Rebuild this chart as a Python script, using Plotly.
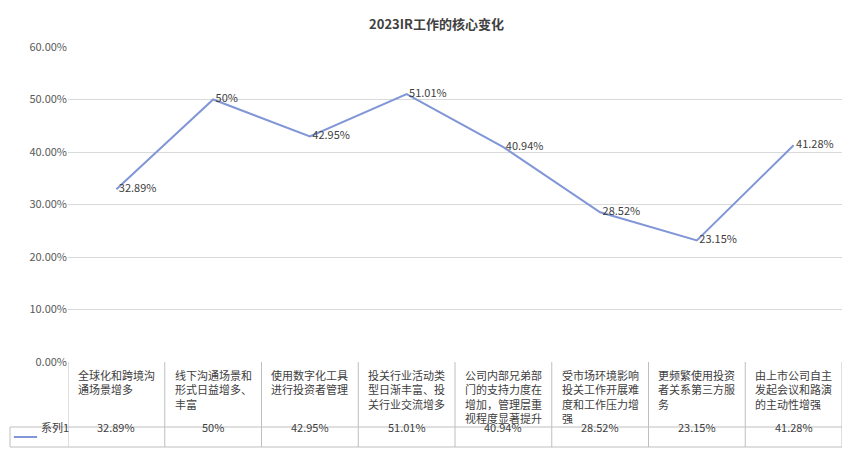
import plotly.graph_objects as go

categories = ["全球化和跨境沟<br>通场景增多", "线下沟通场景和<br>形式日益增多、<br>丰富", "使用数字化工具<br>进行投资者管理",
              "投关行业活动类<br>型日渐丰富、投<br>关行业交流增多", "公司内部兄弟部<br>门的支持力度在<br>增加，管理层重<br>视程度显著提升",
              "受市场环境影响<br>投关工作开展难<br>度和工作压力增<br>强", "更频繁使用投资<br>者关系第三方服<br>务",
              "由上市公司自主<br>发起会议和路演<br>的主动性增强"]
values = [0.3289, 0.50, 0.4295, 0.5101, 0.4094, 0.2852, 0.2315, 0.4128]
value_labels = ["32.89%", "50%", "42.95%", "51.01%", "40.94%", "28.52%", "23.15%", "41.28%"]
series_name = "系列1"

color = "#8096d6"
font = "Noto Sans CJK SC"
xs = list(range(len(categories)))

fig = go.Figure(go.Scatter(x=xs, y=values, mode="lines+text", text=[" " + v for v in value_labels],
                           textposition="middle right", line=dict(color=color, width=2),
                           textfont=dict(size=11, color="#404040", family=font), cliponaxis=False,
                           showlegend=False))

L, R, T, B = 60, 23, 39, 122
ph = 476 - T - B
r1 = -65 / ph
r2 = -85 / ph
left_paper = (2 - L) / (857 - L - R)

shapes = []
line = dict(color="#bfbfbf", width=1)
for i in range(len(categories) + 1):
    shapes.append(dict(type="line", xref="x", yref="paper", x0=i - 0.5, x1=i - 0.5, y0=0, y1=r2, line=line))
shapes.append(dict(type="line", xref="paper", yref="paper", x0=left_paper, x1=1, y0=r1, y1=r1, line=line))
shapes.append(dict(type="line", xref="paper", yref="paper", x0=left_paper, x1=1, y0=r2, y1=r2, line=line))
shapes.append(dict(type="line", xref="paper", yref="paper", x0=left_paper, x1=left_paper, y0=r1, y1=r2, line=line))
shapes.append(dict(type="line", xref="paper", yref="paper", x0=left_paper + 0.005, x1=left_paper + 0.035,
                   y0=(r1 + r2) / 2, y1=(r1 + r2) / 2, line=dict(color=color, width=2)))

ann = []
for i, c in enumerate(categories):
    ann.append(dict(x=i, y=-0.01, xref="x", yref="paper", yanchor="top", text=c, showarrow=False,
                    font=dict(size=11, color="#404040", family=font), align="left"))
    ann.append(dict(x=i, y=(r1 + r2) / 2, xref="x", yref="paper", text=value_labels[i], showarrow=False,
                    font=dict(size=11, color="#404040", family=font)))
ann.append(dict(x=left_paper + 0.038, y=(r1 + r2) / 2, xref="paper", yref="paper", text=series_name,
                showarrow=False, xanchor="left", font=dict(size=11, color="#404040", family=font)))

fig.update_layout(
    width=857, height=476, margin=dict(l=L, r=R, t=T, b=B),
    paper_bgcolor="white", plot_bgcolor="white",
    title=dict(text="<b>2023IR工作的核心变化</b>", x=0.5, y=0.975, xanchor="center",
               font=dict(size=13, color="#404040", family=font)),
    xaxis=dict(range=[-0.5, len(categories) - 0.5], showticklabels=False, showgrid=False, zeroline=False),
    yaxis=dict(range=[0, 0.6], dtick=0.1, tickformat=".2%", gridcolor="#d9d9d9", zeroline=False,
               tickfont=dict(size=11, color="#595959", family=font), ticks="", ticklen=6),
    shapes=shapes, annotations=ann, font=dict(family=font)
)
fig.write_html("out.html")
